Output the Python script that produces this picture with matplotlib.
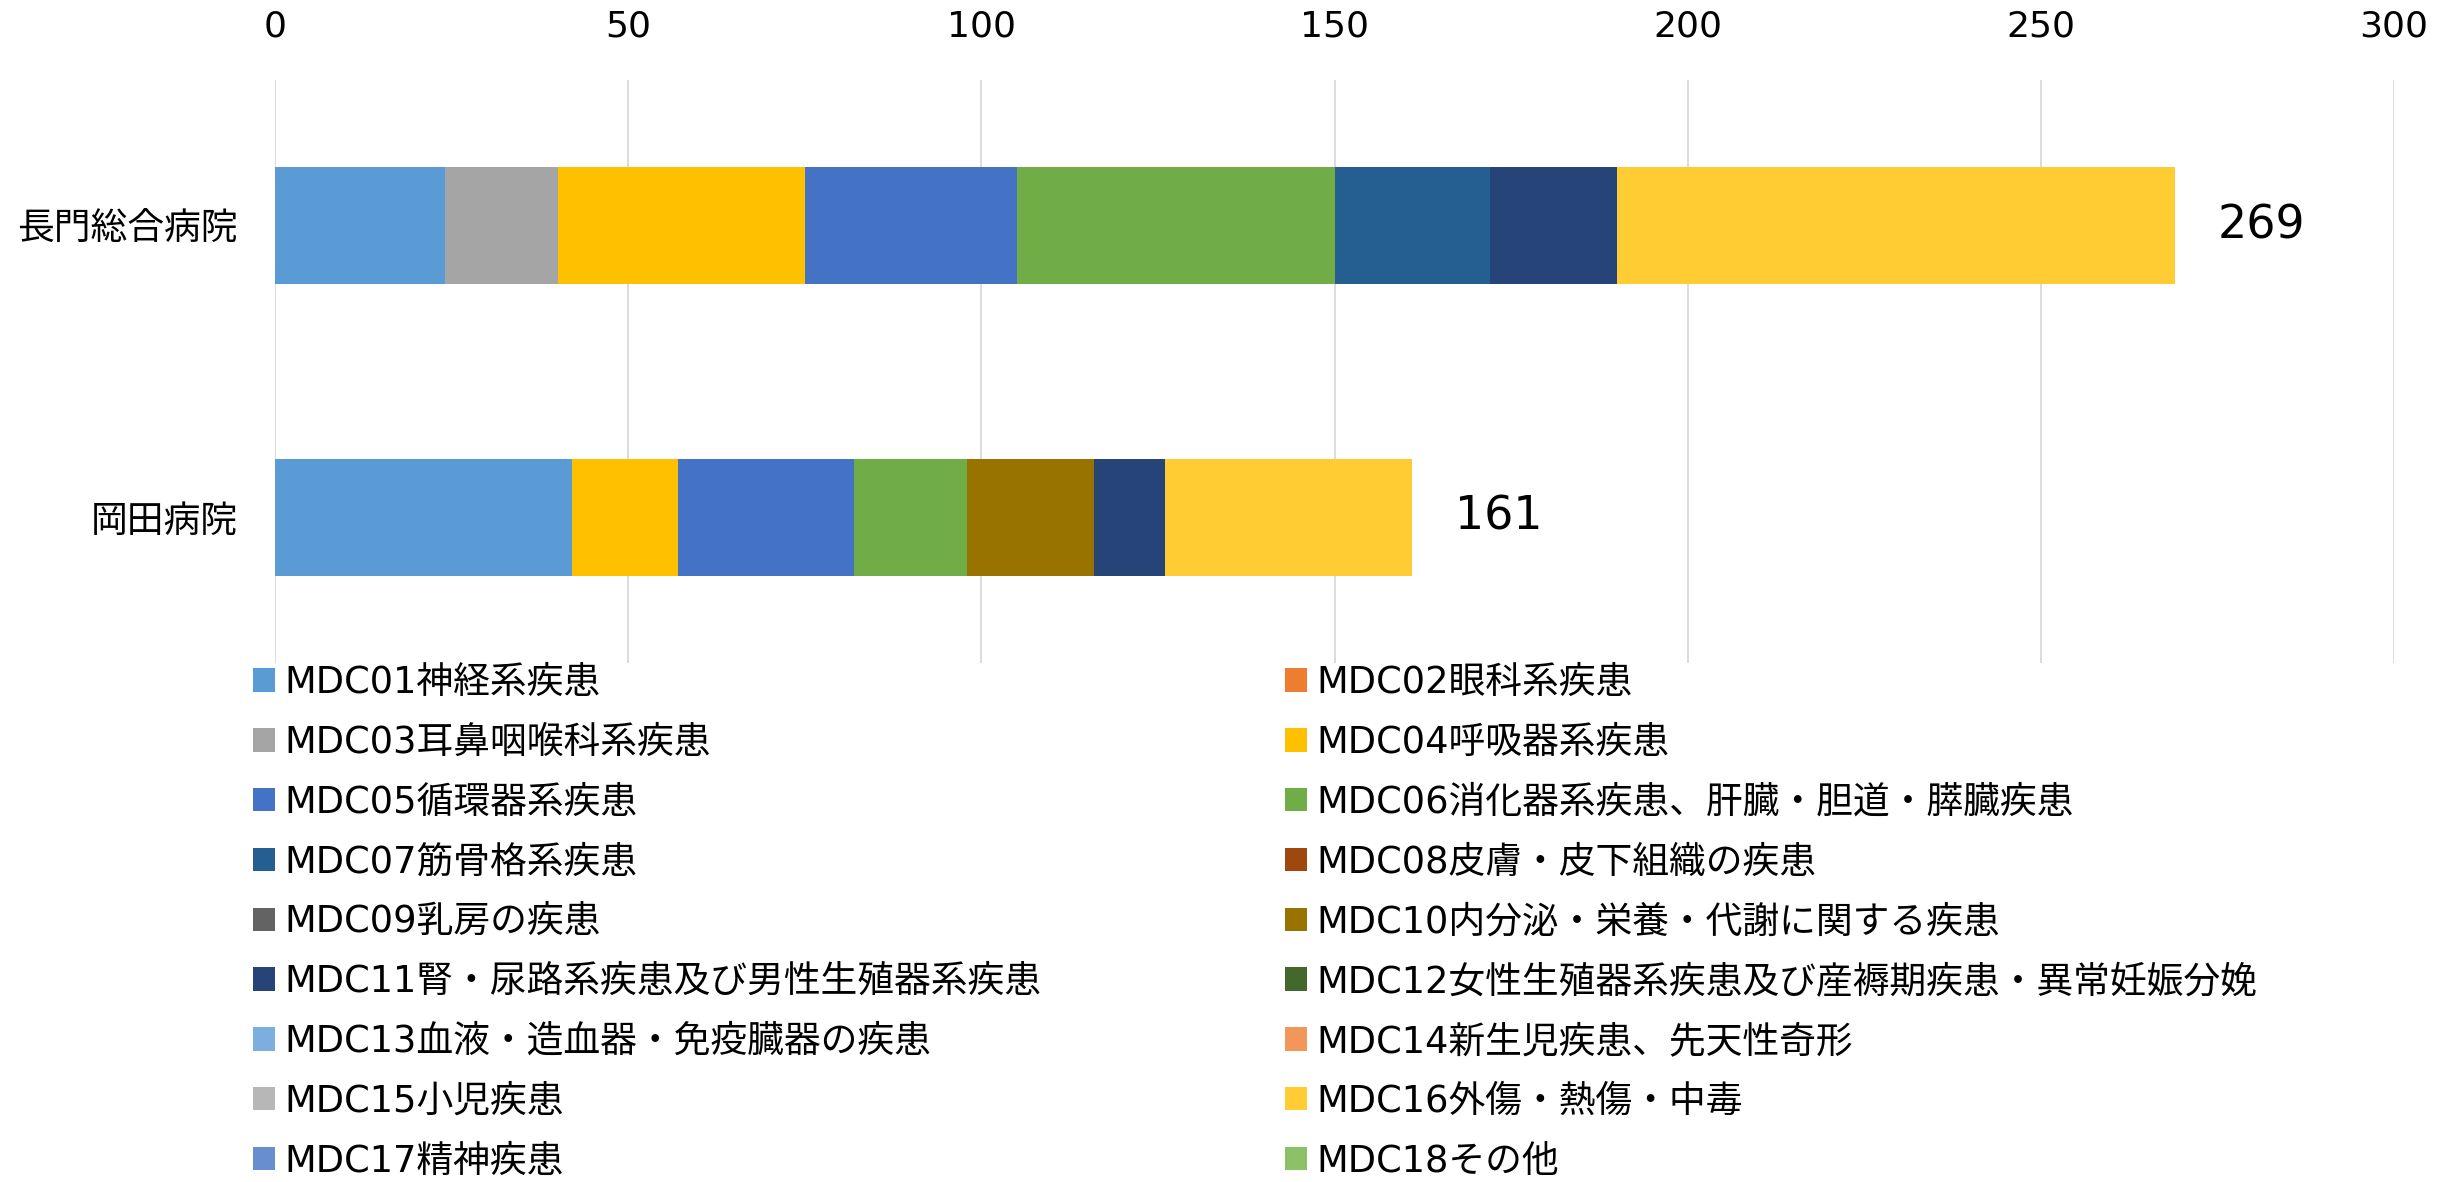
import matplotlib
matplotlib.use("Agg")
import numpy as np
import matplotlib.pyplot as plt

plt.rcParams["font.family"] = ["DejaVu Sans", "Noto Sans CJK JP"]

# data
hospitals = ["長門総合病院", "岡田病院"]
mdc_labels = [
    "MDC01神経系疾患",
    "MDC02眼科系疾患",
    "MDC03耳鼻咽喉科系疾患",
    "MDC04呼吸器系疾患",
    "MDC05循環器系疾患",
    "MDC06消化器系疾患、肝臓・胆道・膵臓疾患",
    "MDC07筋骨格系疾患",
    "MDC08皮膚・皮下組織の疾患",
    "MDC09乳房の疾患",
    "MDC10内分泌・栄養・代謝に関する疾患",
    "MDC11腎・尿路系疾患及び男性生殖器系疾患",
    "MDC12女性生殖器系疾患及び産褥期疾患・異常妊娠分娩",
    "MDC13血液・造血器・免疫臓器の疾患",
    "MDC14新生児疾患、先天性奇形",
    "MDC15小児疾患",
    "MDC16外傷・熱傷・中毒",
    "MDC17精神疾患",
    "MDC18その他",
]
nagato = [24, 0, 16, 35, 30, 45, 22, 0, 0, 0, 18, 0, 0, 0, 0, 79, 0, 0]
okada = [42, 0, 0, 15, 25, 16, 0, 0, 0, 18, 10, 0, 0, 0, 0, 35, 0, 0]
x_ticks = [0, 50, 100, 150, 200, 250, 300]

colors = [
    "#5B9BD5", "#ED7D31", "#A5A5A5", "#FFC000", "#4472C4", "#70AD47",
    "#255E91", "#9E480E", "#636363", "#997300", "#264478", "#43682B",
    "#7CAFDD", "#F1975A", "#B7B7B7", "#FFCD33", "#698ED0", "#8CC168",
]

W, H = 2453, 1182
fig = plt.figure(figsize=(W / 100, H / 100), dpi=100)
ax = fig.add_axes([275 / W, 1 - 663 / H, (2394 - 275) / W, (663 - 80) / H])

values = np.array([nagato, okada])
y = np.arange(len(hospitals))
left = np.zeros(len(hospitals))
handles = []
for i, lab in enumerate(mdc_labels):
    b = ax.barh(y, values[:, i], left=left, height=0.4, color=colors[i],
                label=lab, zorder=3)
    handles.append(b)
    left += values[:, i]

# totals to the right of each bar
for yi, tot in zip(y, left):
    ax.annotate(f"{int(tot)}", xy=(tot, yi), xytext=(31, 0),
                textcoords="offset points", va="center", ha="left",
                fontsize=33)

ax.set_xlim(0, 300)
ax.set_ylim(-0.5, 1.5)
ax.invert_yaxis()
ax.set_xticks(x_ticks)
ax.set_yticks(y)
ax.set_yticklabels(hospitals, fontsize=26.5)
ax.xaxis.tick_top()
ax.tick_params(axis="x", length=0, pad=26, labelsize=26)
ax.tick_params(axis="y", length=0, pad=27)
ax.xaxis.grid(True, color="#D9D9D9", linewidth=1.3, zorder=0)
ax.set_axisbelow(True)
for s in ax.spines.values():
    s.set_visible(False)

# legend laid out row by row: odd codes left, even codes right
leg_kw = dict(loc="upper left", frameon=False, fontsize=26.5, borderpad=0,
              borderaxespad=0, handlelength=0.6, handleheight=0.6,
              handletextpad=0.25, labelspacing=0.62)
left_h = handles[0::2]
right_h = handles[1::2]
fig.legend(left_h, [h.get_label() for h in left_h],
           bbox_to_anchor=(253 / W, 1 - 664 / H), **leg_kw)
fig.legend(right_h, [h.get_label() for h in right_h],
           bbox_to_anchor=(1285 / W, 1 - 664 / H), **leg_kw)

fig.savefig("out.png", dpi=100)
